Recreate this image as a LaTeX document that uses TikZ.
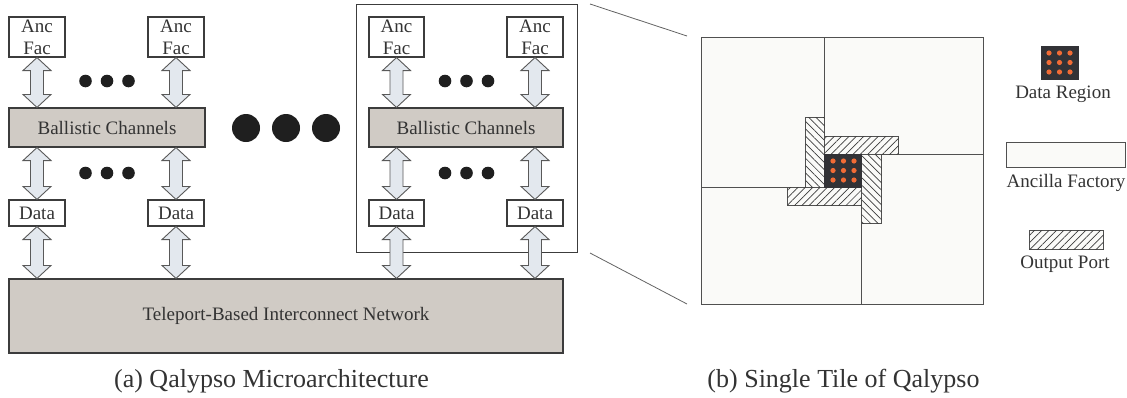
\documentclass[tikz,border=0pt]{standalone}
\usepackage{fontspec}
\setmainfont{Liberation Serif}
\usetikzlibrary{calc,patterns.meta}
\definecolor{chan}{HTML}{D0CBC5}
\definecolor{arrfill}{HTML}{E3E8EE}
\definecolor{edge}{HTML}{3C3C3C}
\definecolor{tilefill}{HTML}{FAFAF8}
\definecolor{dataregion}{HTML}{323236}
\definecolor{dotorange}{HTML}{F26B35}
\definecolor{txt}{HTML}{333333}
\tikzset{
  lbl/.style={font=\fontsize{19}{22}\selectfont, text=txt},
  captext/.style={font=\fontsize{26}{30}\selectfont, text=txt},
  whitebox/.style={draw=edge, line width=1.1pt, fill=white, inner sep=0pt, lbl, align=center},
  chanbox/.style={draw=edge, line width=1.1pt, fill=chan, inner sep=0pt, lbl},
  fatarrow/.style={draw=edge!85, line width=0.9pt, fill=arrfill, line join=miter},
  smalldot/.style={fill=black!88, draw=none},
  quad/.style={draw=edge!90, line width=1pt, fill=tilefill, inner sep=0pt, anchor=north west},
  portne/.style={draw=edge!90, line width=1pt, fill=tilefill, inner sep=0pt, anchor=north west,
     postaction={pattern={Lines[angle=45,distance=5.2pt,line width=0.7pt]}, pattern color=edge}},
  portnw/.style={draw=edge!90, line width=1pt, fill=tilefill, inner sep=0pt, anchor=north west,
     postaction={pattern={Lines[angle=-45,distance=5.2pt,line width=0.7pt]}, pattern color=edge}},
  dreg/.style={fill=dataregion, draw=dataregion, inner sep=0pt, anchor=north west},
  odot/.style={fill=dotorange, draw=none},
  zoomline/.style={draw=edge!80, line width=0.8pt},
}
\newcommand{\fatarr}[2]{\path[fatarrow] let \p1=#1, \p2=#2 in
  (\x1,\y1) -- ++(14pt,-13pt) -- ++(-7.5pt,0pt) -- (\x1+6.5pt,\y2+13pt) -- ++(7.5pt,0pt)
  -- (\x1,\y2) -- ++(-14pt,13pt) -- ++(7.5pt,0pt) -- (\x1-6.5pt,\y1-13pt) -- ++(-7.5pt,0pt) -- cycle;}
\begin{document}
\begin{tikzpicture}[x=1pt,y=-1pt]
\useasboundingbox (0,0) rectangle (1127,397);

% frame around one tile
\node[draw=edge, line width=1pt, inner sep=0pt, minimum width=221pt, minimum height=248pt, anchor=north west] (frame) at (356,4) {};

% left tile
\node[whitebox, minimum width=56pt, minimum height=40pt] (af1) at (37,37) {Anc\\Fac};
\node[whitebox, minimum width=56pt, minimum height=40pt] (af2) at (176,37) {Anc\\Fac};
\node[chanbox, minimum width=196pt, minimum height=39pt] (bc1) at (107,127.5) {Ballistic Channels};
\node[whitebox, minimum width=56pt, minimum height=26pt] (d1) at (37,213) {Data};
\node[whitebox, minimum width=56pt, minimum height=26pt] (d2) at (176,213) {Data};

% right tile
\node[whitebox, minimum width=55pt, minimum height=40pt] (af3) at (396.5,37) {Anc\\Fac};
\node[whitebox, minimum width=56pt, minimum height=40pt] (af4) at (535,37) {Anc\\Fac};
\node[chanbox, minimum width=194pt, minimum height=39pt] (bc2) at (466,127.5) {Ballistic Channels};
\node[whitebox, minimum width=55pt, minimum height=26pt] (d3) at (396.5,213) {Data};
\node[whitebox, minimum width=56pt, minimum height=26pt] (d4) at (535,213) {Data};

% network
\node[chanbox, minimum width=554pt, minimum height=74pt] (net) at (286,316) {Teleport-Based Interconnect Network};

% fat double arrows
\fatarr{(af1.south)}{(af1.south |- bc1.north)}
\fatarr{(af2.south)}{(af2.south |- bc1.north)}
\fatarr{(d1.north |- bc1.south)}{(d1.north)}
\fatarr{(d2.north |- bc1.south)}{(d2.north)}
\fatarr{(d1.south)}{(d1.south |- net.north)}
\fatarr{(d2.south)}{(d2.south |- net.north)}
\fatarr{(af3.south)}{(af3.south |- bc2.north)}
\fatarr{(af4.south)}{(af4.south |- bc2.north)}
\fatarr{(d3.north |- bc2.south)}{(d3.north)}
\fatarr{(d4.north |- bc2.south)}{(d4.north)}
\fatarr{(d3.south)}{(d3.south |- net.north)}
\fatarr{(d4.south)}{(d4.south |- net.north)}

% ellipsis dots
\foreach \cx in {85.5,107,128.5}{
  \fill[smalldot] (\cx,81) circle[radius=6.3pt];
  \fill[smalldot] (\cx,173) circle[radius=6.3pt];}
\foreach \cx in {445,466.5,488}{
  \fill[smalldot] (\cx,81) circle[radius=6.3pt];
  \fill[smalldot] (\cx,173) circle[radius=6.3pt];}
\foreach \cx in {246,286,326}{
  \fill[smalldot] (\cx,128) circle[radius=14pt];}

% zoom lines
\coordinate (z1) at (590,4);
\coordinate (z2) at (687,36);
\coordinate (z3) at (590,253);
\coordinate (z4) at (687,304);
\draw[zoomline] (z1) -- (z2);
\draw[zoomline] (z3) -- (z4);

% single tile
\node[quad, minimum width=123pt, minimum height=150pt] (qtl) at (701,37) {};
\node[quad, minimum width=159pt, minimum height=117pt] (qtr) at (824,37) {};
\node[quad, minimum width=122pt, minimum height=150pt] (qbr) at (861,154) {};
\node[quad, minimum width=160pt, minimum height=117pt] (qbl) at (701,187) {};
\node[portnw, minimum width=19pt, minimum height=70pt] (ptl) at (805,117) {};
\node[portne, minimum width=74pt, minimum height=18pt] (ptr) at (824,136) {};
\node[portnw, minimum width=20pt, minimum height=69pt] (pbr) at (861,154) {};
\node[portne, minimum width=74pt, minimum height=18pt] (pbl) at (787,187) {};
\node[dreg, minimum width=37pt, minimum height=33pt] (dr) at (824,154) {};
\foreach \cx in {833,843.5,854}{\foreach \cy in {161,170.5,180}{
  \fill[odot] (\cx,\cy) circle[radius=2.6pt];}}

% legend
\node[dreg, minimum width=37pt, minimum height=33pt] (ldr) at (1041,46) {};
\foreach \cx in {1049,1059.5,1070}{\foreach \cy in {53,62.5,72}{
  \fill[odot] (\cx,\cy) circle[radius=2.6pt];}}
\node[lbl] (tdr) at (1063,94) {Data Region};
\node[quad, minimum width=119pt, minimum height=25pt] (laf) at (1006,142) {};
\node[lbl] (taf) at (1066,183) {Ancilla Factory};
\node[portne, minimum width=74pt, minimum height=19pt] (lop) at (1029,230) {};
\node[lbl] (top) at (1065,264) {Output Port};

% captions
\node[captext] (capa) at (271.5,381) {(a) Qalypso Microarchitecture};
\node[captext] (capb) at (843.5,381) {(b) Single Tile of Qalypso};
\end{tikzpicture}
\end{document}
